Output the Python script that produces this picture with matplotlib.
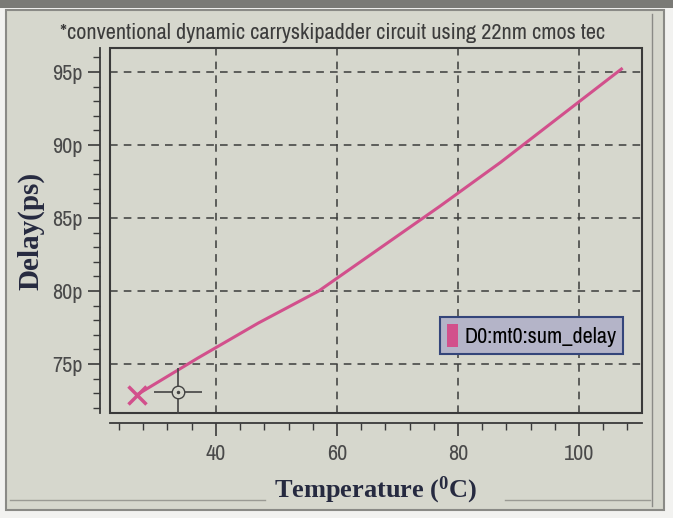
import matplotlib
matplotlib.use("Agg")
import matplotlib.pyplot as plt
from matplotlib.patches import Rectangle, Patch
from matplotlib.ticker import MultipleLocator
from matplotlib.lines import Line2D

# temperature sweep (deg C) and measured sum delay (ps)
temp = [27, 37, 47, 57, 67, 77, 87, 97, 107]
delay = [72.9, 75.4, 77.8, 80.0, 82.9, 85.8, 88.8, 92.0, 95.2]

xticks = [40, 60, 80, 100]
yticks = [75, 80, 85, 90, 95]
ytick_labels = ["75p", "80p", "85p", "90p", "95p"]

cursor = (33.7, 73.1)

title = "*conventional dynamic carryskipadder circuit using 22nm cmos tec"
legend_label = "D0:mt0:sum_delay"

bg = "#d6d7cd"
pink = "#d2508c"
narrow = ["Archivo Narrow", "DejaVu Sans"]
serif = ["Liberation Serif", "DejaVu Serif"]

fig = plt.figure(figsize=(6.73, 5.18), dpi=100, facecolor="#f2f2f0")

# screen / window frame of the photo
fig.patches.append(Rectangle((6 / 673, 8 / 518), 658 / 673, 500 / 518,
                             transform=fig.transFigure, facecolor=bg,
                             edgecolor="#8a8a86", lw=1.5, zorder=-10))
fig.patches.append(Rectangle((0, 1 - 8 / 518), 1, 8 / 518,
                             transform=fig.transFigure, facecolor="#7a7a76",
                             edgecolor="none", zorder=-10))
fig.add_artist(Line2D([652 / 673, 652 / 673], [12 / 518, 1 - 14 / 518],
                      transform=fig.transFigure, color="#8a8a86", lw=1))
fig.add_artist(Line2D([10 / 673, 265 / 673], [18 / 518, 18 / 518],
                      transform=fig.transFigure, color="#9a9a94", lw=1))
fig.add_artist(Line2D([505 / 673, 650 / 673], [18 / 518, 18 / 518],
                      transform=fig.transFigure, color="#9a9a94", lw=1))

ax = fig.add_axes([110 / 673, 1 - 413 / 518, 532 / 673, 365 / 518])
ax.set_zorder(1)
ax.set_facecolor(bg)

ax.plot(temp, delay, color=pink, lw=2.2, zorder=3)
ax.plot(temp[0], delay[0], marker="x", color=pink, markersize=13,
        mew=2.5, zorder=4)

# measurement cursor
ax.plot(*cursor, marker="+", color="#444444", markersize=34, mew=1.2, zorder=4)
ax.plot(*cursor, marker="o", color="#444444", markersize=9, mfc=bg,
        mew=1.0, zorder=5)
ax.plot(*cursor, marker=".", color="#444444", markersize=3, zorder=6)

ax.set_xlim(22.5, 110.4)
ax.set_ylim(71.64, 96.64)
ax.set_xticks(xticks)
ax.set_yticks(yticks)
ax.set_yticklabels(ytick_labels)
ax.xaxis.set_minor_locator(MultipleLocator(4))
ax.yaxis.set_minor_locator(MultipleLocator(1))

ax.grid(True, which="major", linestyle=(0, (5, 4)), color="#3c3c3c", lw=1.1)

for s in ["top", "right"]:
    ax.spines[s].set_visible(False)
for s in ["left", "bottom"]:
    ax.spines[s].set_position(("outward", 7))
    ax.spines[s].set_color("#3a3a3a")
    ax.spines[s].set_linewidth(1.3)
ax.add_patch(Rectangle((0, 0), 1, 1, transform=ax.transAxes, fill=False,
                       edgecolor="#3a3a3a", lw=1.5, clip_on=False, zorder=2))

ax.tick_params(which="major", direction="out", length=9, width=1.2,
               color="#3a3a3a", labelcolor="#4a4a4a", labelsize=16)
ax.tick_params(axis="x", which="major", pad=6)
ax.tick_params(which="minor", direction="out", length=5, width=1.0,
               color="#3a3a3a")
for lab in ax.get_xticklabels() + ax.get_yticklabels():
    lab.set_family(narrow)

ax.set_xlabel("Temperature ($\\mathregular{^0}$C)", family=serif,
              fontweight="bold", fontsize=19, color="#262a40", labelpad=8)
ax.set_ylabel("Delay(ps)", family=serif, fontweight="bold", fontsize=21,
              color="#262a40", labelpad=6)

fig.text(60 / 673, 1 - 33 / 518, title, family=narrow, fontsize=16,
         color="#3c3c3c", va="center", ha="left")

leg = ax.legend(handles=[Patch(facecolor=pink, edgecolor="none")],
                labels=[legend_label], loc="upper left",
                bbox_to_anchor=(0.62, 0.262), borderaxespad=0, frameon=True,
                fancybox=False, handlelength=0.5, handleheight=1.2,
                handletextpad=0.3, borderpad=0.3,
                prop={"family": narrow, "size": 16})
leg.get_frame().set_facecolor("#b4b4c8")
leg.get_frame().set_edgecolor("#34457a")
leg.get_frame().set_linewidth(1.5)
leg.get_frame().set_alpha(1)

fig.savefig("out.png", dpi=100, facecolor=fig.get_facecolor())
